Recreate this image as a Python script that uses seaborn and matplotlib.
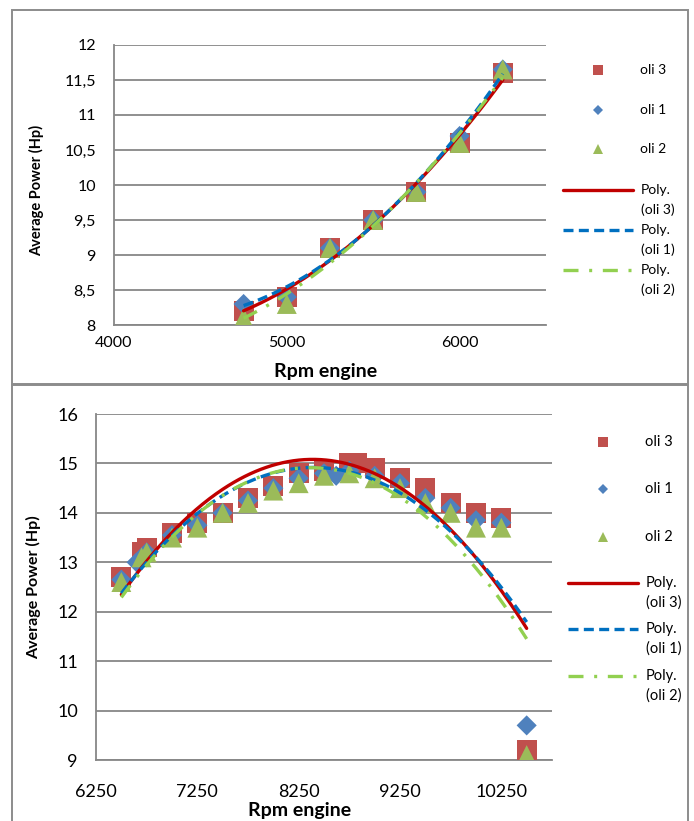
import numpy as np
import matplotlib
matplotlib.use("Agg")
import matplotlib.pyplot as plt
from matplotlib.patches import Rectangle
from matplotlib.lines import Line2D
from matplotlib.ticker import FuncFormatter
import seaborn as sns

# ---- data -------------------------------------------------------------
series_names = ["oli 3", "oli 1", "oli 2"]

# upper chart (lower rpm range)
top_rpm = [4750, 5000, 5250, 5500, 5750, 6000, 6250]
top_oli3 = [8.2, 8.4, 9.1, 9.5, 9.9, 10.6, 11.6]
top_oli1 = [8.3, 8.4, 9.1, 9.5, 9.9, 10.7, 11.65]
top_oli2 = [8.1, 8.3, 9.1, 9.5, 9.9, 10.6, 11.65]
top_xticks = [4000, 5000, 6000]

# lower chart (high rpm range)
bot_rpm_oli3 = [6500, 6700, 6750, 7000, 7250, 7500, 7750, 8000, 8250, 8500,
                8750, 8830, 9000, 9250, 9500, 9750, 10000, 10250, 10500]
bot_oli3 = [12.7, 13.2, 13.3, 13.6, 13.8, 14.0, 14.3, 14.55, 14.8, 14.85,
            15.0, 15.0, 14.9, 14.7, 14.5, 14.2, 14.0, 13.9, 9.2]
bot_rpm_oli1 = [6500, 6650, 6750, 7000, 7250, 7500, 7750, 8000, 8250, 8500,
                8620, 8750, 9000, 9250, 9500, 9750, 10000, 10250, 10500]
bot_oli1 = [12.65, 13.0, 13.2, 13.55, 13.75, 14.0, 14.25, 14.5, 14.7, 14.8,
            14.75, 14.85, 14.75, 14.6, 14.3, 14.1, 13.85, 13.8, 9.7]
bot_rpm_oli2 = [6500, 6700, 6750, 7000, 7250, 7500, 7750, 8000, 8250, 8500,
                8750, 9000, 9250, 9500, 9750, 10000, 10250, 10500]
bot_oli2 = [12.6, 13.1, 13.2, 13.5, 13.7, 14.0, 14.2, 14.45, 14.6, 14.75,
            14.8, 14.7, 14.5, 14.2, 14.0, 13.7, 13.7, 9.1]
bot_xticks = [6250, 7250, 8250, 9250, 10250]

# ---- styling ----------------------------------------------------------
sns.set_theme(style="white")
plt.rcParams["font.family"] = ["Lato", "DejaVu Sans"]

W, H = 694, 821
fig = plt.figure(figsize=(W / 100, H / 100), dpi=100)
fig.patch.set_facecolor("white")

GRID = "#878787"
marker_colors = {"oli 3": "#C0504D", "oli 1": "#4F81BD", "oli 2": "#9BBB59"}
marker_shapes = {"oli 3": "s", "oli 1": "D", "oli 2": "^"}
marker_sizes = {"oli 3": 205, "oli 1": 105, "oli 2": 205}
line_colors = {"oli 3": "#C00000", "oli 1": "#0070C0", "oli 2": "#92D050"}
line_styles = {"oli 3": "-", "oli 1": (0, (3.0, 1.6)), "oli 2": (0, (4.5, 3.2, 0.9, 3.2))}
LW = 2.4


def axes_px(left, top, right, bottom):
    return fig.add_axes([left / W, 1 - bottom / H, (right - left) / W, (bottom - top) / H])


def comma(v, _pos):
    return f"{v:g}".replace(".", ",")


def draw_chart(ax, data, xlim, ylim, xticks, ystep, tick_size, ypad, xpad, ylab_size):
    # scatter markers: oli 3 at the back, oli 2 in front
    for name in series_names:
        xs, ys = data[name]
        sns.scatterplot(x=xs, y=ys, ax=ax, marker=marker_shapes[name],
                        s=marker_sizes[name], color=marker_colors[name],
                        edgecolor="none", linewidth=0, zorder=3, legend=False)
    # second order polynomial trendlines
    for name in series_names:
        xs, ys = data[name]
        coef = np.polyfit(xs, ys, 2)
        fx = np.linspace(min(xs), max(xs), 300)
        fy = np.polyval(coef, fx)
        sns.lineplot(x=fx, y=fy, ax=ax, color=line_colors[name],
                     linestyle=line_styles[name], linewidth=LW, zorder=4,
                     legend=False, sort=False, estimator=None)
    ax.set_xlim(*xlim)
    ax.set_ylim(*ylim)
    ax.set_xticks(xticks)
    ax.xaxis.set_major_formatter(FuncFormatter(lambda v, p: f"{v:.0f}"))
    ax.set_yticks(np.arange(ylim[0], ylim[1] + ystep / 2, ystep))
    ax.yaxis.set_major_formatter(FuncFormatter(comma))
    ax.grid(axis="y", color=GRID, linewidth=1.3)
    ax.grid(axis="x", visible=False)
    for side in ("top", "right"):
        ax.spines[side].set_visible(False)
    for side in ("left", "bottom"):
        ax.spines[side].set_color(GRID)
        ax.spines[side].set_linewidth(1.3)
    ax.tick_params(axis="both", length=0, labelsize=tick_size, colors="black")
    ax.tick_params(axis="y", pad=ypad)
    ax.tick_params(axis="x", pad=xpad)
    ax.set_facecolor("white")
    ax.set_xlabel("Rpm engine", fontsize=14, fontweight="bold", color="black", va="top")
    ax.set_ylabel("Average Power (Hp)", fontsize=ylab_size, fontweight="bold", color="black")


# ---- panel frames -----------------------------------------------------
for (l, t, r, b) in [(12, 10, 688, 384), (12, 385, 688, 830)]:
    fig.add_artist(Rectangle((l / W, 1 - b / H), (r - l) / W, (b - t) / H,
                             transform=fig.transFigure, fill=False,
                             edgecolor="#8c8c8c", linewidth=1.4, zorder=0))

# ---- upper chart ------------------------------------------------------
ax1 = axes_px(114, 45, 546, 325)
top_data = {"oli 3": (top_rpm, top_oli3), "oli 1": (top_rpm, top_oli1),
            "oli 2": (top_rpm, top_oli2)}
draw_chart(ax1, top_data, (4000, 6500), (8, 12), top_xticks, 0.5,
           tick_size=11.5, ypad=13, xpad=8, ylab_size=10.5)
ax1.xaxis.set_label_coords(0.49, -0.135)
ax1.yaxis.set_label_coords(-0.163, 0.48)

# ---- lower chart ------------------------------------------------------
ax2 = axes_px(96, 414, 552, 760)
bot_data = {"oli 3": (bot_rpm_oli3, bot_oli3), "oli 1": (bot_rpm_oli1, bot_oli1),
            "oli 2": (bot_rpm_oli2, bot_oli2)}
draw_chart(ax2, bot_data, (6250, 10750), (9, 16), bot_xticks, 1,
           tick_size=13, ypad=13, xpad=17, ylab_size=11.5)
ax2.xaxis.set_label_coords(0.447, -0.121)
ax2.yaxis.set_label_coords(-0.12, 0.5)

# ---- legends ----------------------------------------------------------
lax = fig.add_axes([0, 0, 1, 1], zorder=10)
lax.set_xlim(0, W)
lax.set_ylim(H, 0)
lax.axis("off")
lax.patch.set_alpha(0)

legend_layout = [
    # marker x, text x, line x0, line x1, marker ys, line ys, font size
    (598, 640, 563, 633, [70, 110, 149], [190, 230, 270], 10),
    (603, 645, 568, 638, [442, 489, 537], [583, 629, 676], 10.5),
]
leg_marker_ms = {"oli 3": 7.2, "oli 1": 5.4, "oli 2": 7.2}
for mx, tx, lx0, lx1, mys, lys, fs in legend_layout:
    for name, y in zip(series_names, mys):
        lax.add_line(Line2D([mx], [y], marker=marker_shapes[name], markersize=leg_marker_ms[name],
                            color=marker_colors[name], markeredgewidth=0, linestyle="none"))
        lax.text(tx, y, name, fontsize=fs, va="center", ha="left", color="black")
    for name, y in zip(series_names, lys):
        lax.add_line(Line2D([lx0, lx1], [y, y], color=line_colors[name],
                            linestyle=line_styles[name], linewidth=LW))
        lax.text(tx + 1, y, "Poly.", fontsize=fs, va="center", ha="left", color="black")
        lax.text(tx + 1, y + 20, f"({name})", fontsize=fs, va="center", ha="left", color="black")

fig.savefig("out.png", dpi=100, facecolor="white")
